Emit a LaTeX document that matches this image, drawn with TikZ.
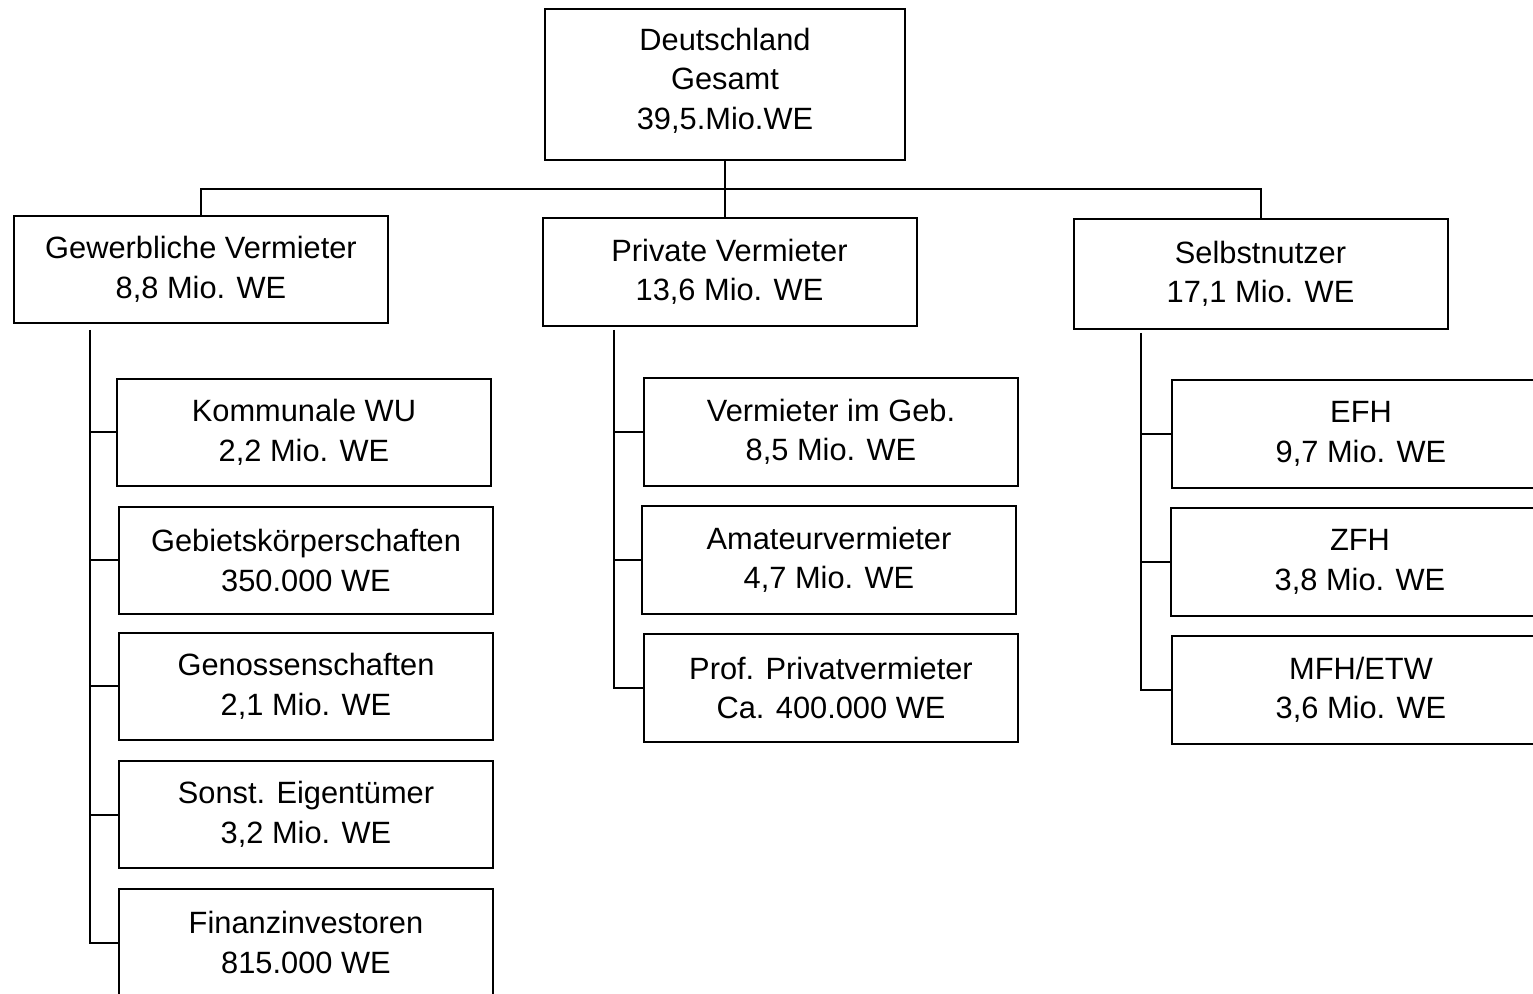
\documentclass[tikz,border=0pt]{standalone}
\usepackage{fontspec}
\setmainfont{Liberation Sans}
\begin{document}
\begin{tikzpicture}[x=0.5pt,y=-0.5pt,
  box/.style={draw,line width=1pt,align=center,inner sep=0pt,
    font=\fontsize{15.4pt}{19.8pt}\selectfont,minimum width=187pt,minimum height=53.5pt},
  conn/.style={line width=1pt}]
\clip (0,0) rectangle (1533,994);
\fill[white] (0,0) rectangle (1533,994);
\node[box,minimum width=180pt,minimum height=75.5pt] (top) at (725,84.5) {};
\node[align=center,inner sep=0pt,font=\fontsize{15.4pt}{19.8pt}\selectfont] (toptext) at (725,80.5) {Deutschland\\Gesamt\\39,5.Mio.WE};
\node[box] (gew) at (201,269.5) {Gewerbliche Vermieter\\8,8 Mio. WE};
\node[box,minimum height=54pt] (priv) at (729.5,272) {Private Vermieter\\13,6 Mio. WE};
\node[box,minimum height=55pt] (selb) at (1260.5,274) {Selbstnutzer\\17,1 Mio. WE};
\node[box] (k1) at (304,432.5) {Kommunale WU\\2,2 Mio. WE};
\node[box] (k2) at (306,560.5) {Gebietskörperschaften\\350.000 WE};
\node[box] (k3) at (306,686.5) {Genossenschaften\\2,1 Mio. WE};
\node[box] (k4) at (306,814.5) {Sonst. Eigentümer\\3,2 Mio. WE};
\node[box] (k5) at (306,942.5) {Finanzinvestoren\\815.000 WE};
\node[box,minimum height=54pt] (m1) at (831,432) {Vermieter im Geb.\\8,5 Mio. WE};
\node[box,minimum height=54pt] (m2) at (829,560) {Amateurvermieter\\4,7 Mio. WE};
\node[box,minimum height=54pt] (m3) at (831,688) {Prof. Privatvermieter\\Ca. 400.000 WE};
\node[box,minimum width=189pt,minimum height=54pt] (r1) at (1361,434) {EFH\\9,7 Mio. WE};
\node[box,minimum width=189pt,minimum height=54pt] (r2) at (1360,562) {ZFH\\3,8 Mio. WE};
\node[box,minimum width=189pt,minimum height=54pt] (r3) at (1361,690) {MFH/ETW\\3,6 Mio. WE};
\coordinate (bar) at (725,189);
\draw[conn] (top.south) -- (top.south |- priv.north);
\draw[conn] (gew.north) |- (bar) -| (selb.north);
\coordinate (gt) at (90,330);
\draw[conn] (gt) |- (k5.west);
\foreach \n in {k1,k2,k3,k4} \draw[conn] (\n.west) -- (\n.west -| gt);
\coordinate (mt) at (614,330);
\draw[conn] (mt) |- (m3.west);
\foreach \n in {m1,m2} \draw[conn] (\n.west) -- (\n.west -| mt);
\coordinate (rt) at (1141,333);
\draw[conn] (rt) |- (r3.west);
\foreach \n in {r1,r2} \draw[conn] (\n.west) -- (\n.west -| rt);
\end{tikzpicture}
\end{document}
